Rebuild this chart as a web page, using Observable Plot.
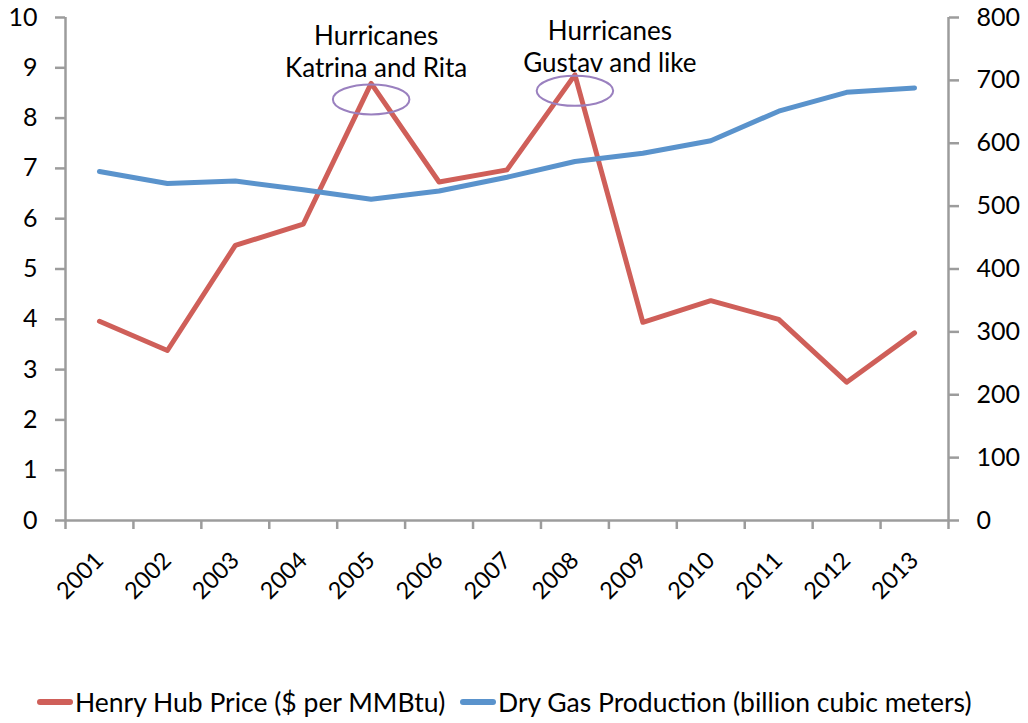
<!DOCTYPE html>
<html>
<head>
<meta charset="utf-8">
<script src="https://cdn.jsdelivr.net/npm/d3@7"></script>
<script src="https://cdn.jsdelivr.net/npm/@observablehq/plot@0.6"></script>
<style>
  body { margin: 0; background: #fff; font-family: Lato, sans-serif; }
  #chart { width: 1028px; height: 680px; }
  #legend { position: relative; width: 1028px; height: 43px; }
  .item { position: absolute; top: 0; height: 43px; display: flex; align-items: center; font-size: 26.5px; color: #000; white-space: nowrap; }
  .sw { display: inline-block; width: 36px; height: 6px; border-radius: 3px; margin-right: 2px; }
</style>
</head>
<body>
<div id="chart"></div>
<div id="legend"></div>
<script>
const years = ["2001","2002","2003","2004","2005","2006","2007","2008","2009","2010","2011","2012","2013"];
const henryHub = [3.96, 3.38, 5.47, 5.89, 8.69, 6.73, 6.97, 8.86, 3.94, 4.37, 4.00, 2.75, 3.73];
const dryGas = [555, 536, 540, 526, 511, 524, 546, 571, 584, 604, 651, 681, 688];
const leftTicks = [0,1,2,3,4,5,6,7,8,9,10];
const rightTicks = [0,100,200,300,400,500,600,700,800];
const seriesNames = ["Henry Hub Price ($ per MMBtu)", "Dry Gas Production (billion cubic meters)"];
const annotation1 = {year: "2005", label: "Hurricanes\nKatrina and Rita"};
const annotation2 = {year: "2008", label: "Hurricanes\nGustav and like"};

const RED = "#cf5f59", BLUE = "#5a93cc", GRAY = "#9c9c9c", PURPLE = "#9a80bf";
const leftMax = 10, rightMax = 800, ratio = rightMax / leftMax;
const idx = years.map((d, i) => i);
const bounds = d3.range(years.length + 1).map(i => i - 0.5);

// ellipse symbol (d3-symbol compatible)
const ellipse = {
  draw(context, size) {
    const r = Math.sqrt(size / Math.PI), rx = r * 2.55, ry = r, k = 0.5523;
    context.moveTo(rx, 0);
    context.bezierCurveTo(rx, ry * k, rx * k, ry, 0, ry);
    context.bezierCurveTo(-rx * k, ry, -rx, ry * k, -rx, 0);
    context.bezierCurveTo(-rx, -ry * k, -rx * k, -ry, 0, -ry);
    context.bezierCurveTo(rx * k, -ry, rx, -ry * k, rx, 0);
    context.closePath();
  }
};

const a1 = years.indexOf(annotation1.year), a2 = years.indexOf(annotation2.year);

const plot = Plot.plot({
  width: 1028,
  height: 680,
  marginLeft: 65,
  marginRight: 80,
  marginTop: 17,
  marginBottom: 160,
  style: {fontFamily: "Lato, sans-serif", background: "white", color: "black"},
  x: {type: "linear", domain: [-0.5, years.length - 0.5], axis: null},
  y: {domain: [0, leftMax], axis: null},
  marks: [
    Plot.axisX({ticks: bounds, tickFormat: () => "", tickSize: 9, stroke: GRAY, strokeWidth: 2.5}),
    Plot.axisX({ticks: idx, tickFormat: i => years[i], tickSize: 0, tickPadding: 36, tickRotate: -45, fontSize: 23.5, fill: "black"}),
    Plot.axisY(leftTicks, {anchor: "left", tickFormat: d => String(d), tickSize: 10, tickPadding: 18, fontSize: 25, stroke: GRAY, strokeWidth: 2.5, fill: "black"}),
    Plot.axisY(rightTicks.map(v => v / ratio), {anchor: "right", tickFormat: d => String(Math.round(d * ratio)), tickSize: 10, tickPadding: 18, fontSize: 25, stroke: GRAY, strokeWidth: 2.5, fill: "black"}),
    Plot.ruleX([-0.5, years.length - 0.5], {stroke: GRAY, strokeWidth: 2.5}),
    Plot.ruleY([0], {stroke: GRAY, strokeWidth: 2.5}),
    Plot.line(henryHub, {x: (d, i) => i, y: d => d, stroke: RED, strokeWidth: 5}),
    Plot.line(dryGas, {x: (d, i) => i, y: d => d / ratio, stroke: BLUE, strokeWidth: 5}),
    Plot.dot([a1, a2], {x: d => d, y: d => henryHub[d], dy: 16, r: 15, symbol: ellipse, stroke: PURPLE, strokeWidth: 2, fill: "none"}),
    Plot.text([annotation1], {x: d => years.indexOf(d.year), y: d => henryHub[years.indexOf(d.year)], text: "label", lineAnchor: "bottom", lineHeight: 1.23, dx: 5, dy: -6, fontSize: 26, fill: "black"}),
    Plot.text([annotation2], {x: d => years.indexOf(d.year), y: d => henryHub[years.indexOf(d.year)], text: "label", lineAnchor: "bottom", lineHeight: 1.23, dx: 35, dy: -3, fontSize: 26, fill: "black"})
  ]
});
document.getElementById("chart").appendChild(plot);

const legend = document.getElementById("legend");
const legendLefts = [37, 460];
[RED, BLUE].forEach((c, i) => {
  const it = document.createElement("div");
  it.className = "item";
  it.style.left = legendLefts[i] + "px";
  it.innerHTML = `<span class="sw" style="background:${c}"></span><span>${seriesNames[i]}</span>`;
  legend.appendChild(it);
});
</script>
</body>
</html>
